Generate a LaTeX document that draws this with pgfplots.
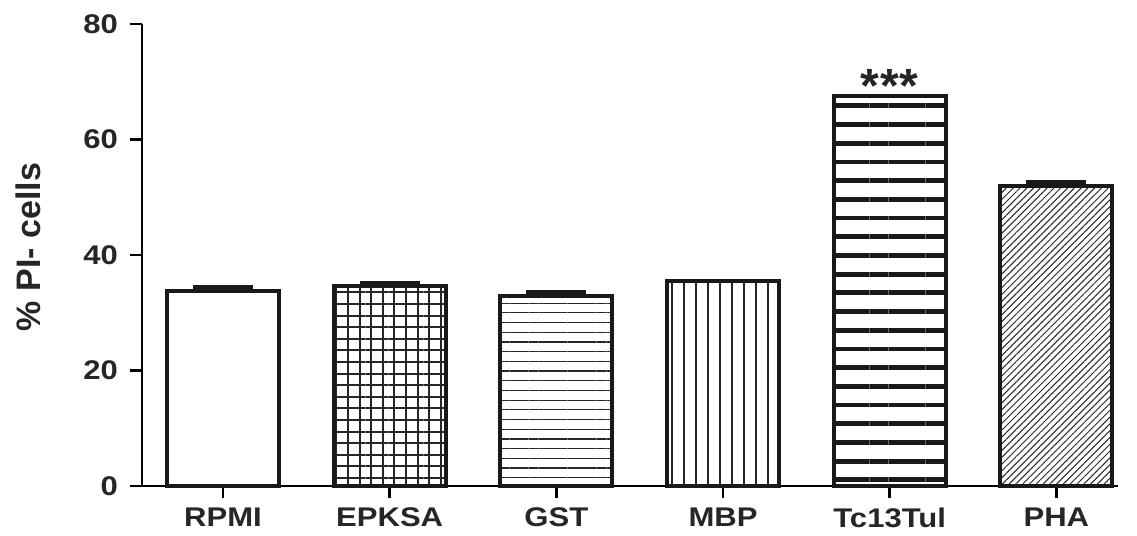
\documentclass[border=0pt]{standalone}
\usepackage{pgfplots}
\pgfplotsset{compat=1.18}
\usetikzlibrary{patterns.meta}
\usepackage{fontspec}
\setmainfont{Liberation Sans}
\newfontfamily\wide[FakeStretch=1.15]{Liberation Sans}
\begin{document}
\begin{tikzpicture}
\begin{axis}[
  scale only axis, width=488pt, height=231pt,
  xmin=-0.486, xmax=5.37, ymin=0, ymax=80,
  axis x line=bottom, axis y line=left,
  axis line style={line width=1.25pt, -, black},
  xtick={0,1,2,3,4,5},
  xticklabels={RPMI,EPKSA,GST,MBP,Tc13Tul,PHA},
  ytick={0,20,40,60,80},
  tick align=outside, major tick length=6pt,
  tick style={line width=1.25pt, black},
  ticklabel style={font=\wide\bfseries\fontsize{13.5}{14}\selectfont, text=black!85},
  yticklabel style={xshift=-2.5pt},
  xticklabel style={yshift=-1.5pt},
  /pgf/number format/assume math mode=true,
  ylabel={\% PI- cells},
  ylabel style={font=\bfseries\fontsize{17}{18}\selectfont, at={(axis description cs:-0.1168,0.517)}, anchor=center, text=black!85},
  clip=false,
]
\addplot[ybar, bar width=56pt, draw=black!90, line width=2pt, fill=white,
  error bars/.cd, y dir=plus, y explicit,
  error bar style={line width=2pt, black!90},
  error mark options={rotate=90, mark size=15pt, line width=2pt, black!90}]
  coordinates {(0,33.8) +- (0,0.6)};
\addplot[ybar, bar width=56pt, draw=black!90, line width=2pt, fill=white,
  pattern={Hatch[distance=5.8pt, angle=0, line width=1pt]}, pattern color=black!85,
  error bars/.cd, y dir=plus, y explicit,
  error bar style={line width=2pt, black!90},
  error mark options={rotate=90, mark size=15pt, line width=2pt, black!90}]
  coordinates {(1,34.6) +- (0,0.5)};
\addplot[ybar, bar width=56pt, draw=black!90, line width=2pt,
  pattern={Lines[distance=4.85pt, angle=0, line width=0.6pt]}, pattern color=black!85,
  error bars/.cd, y dir=plus, y explicit,
  error bar style={line width=2pt, black!90},
  error mark options={rotate=90, mark size=15pt, line width=2pt, black!90}]
  coordinates {(2,32.85) +- (0,0.8)};
\addplot[ybar, bar width=56pt, draw=black!90, line width=2pt,
  pattern={Lines[distance=6pt, angle=90, line width=0.6pt]}, pattern color=black!85]
  coordinates {(3,35.5)};
\addplot[ybar, bar width=56pt, draw=black!90, line width=2pt,
  pattern={Lines[distance=9.35pt, angle=0, line width=2.4pt]}, pattern color=black!90]
  coordinates {(4,67.6)};
\addplot[ybar, bar width=56pt, draw=black!90, line width=2pt,
  pattern={Lines[distance=2.4pt, angle=45, line width=0.5pt]}, pattern color=black!85,
  error bars/.cd, y dir=plus, y explicit,
  error bar style={line width=2pt, black!90},
  error mark options={rotate=90, mark size=15pt, line width=2pt, black!90}]
  coordinates {(5,51.9) +- (0,0.8)};
\node[font=\bfseries\fontsize{24}{24}\selectfont, anchor=base, text=black!85] at (axis cs:4,66.4) {*\kern0.5pt*\kern0.5pt*};
\end{axis}
\path ([xshift=-71pt,yshift=-25pt]current axis.south west) rectangle ([xshift=9.5pt,yshift=12pt]current axis.north east);
\end{tikzpicture}
\end{document}
